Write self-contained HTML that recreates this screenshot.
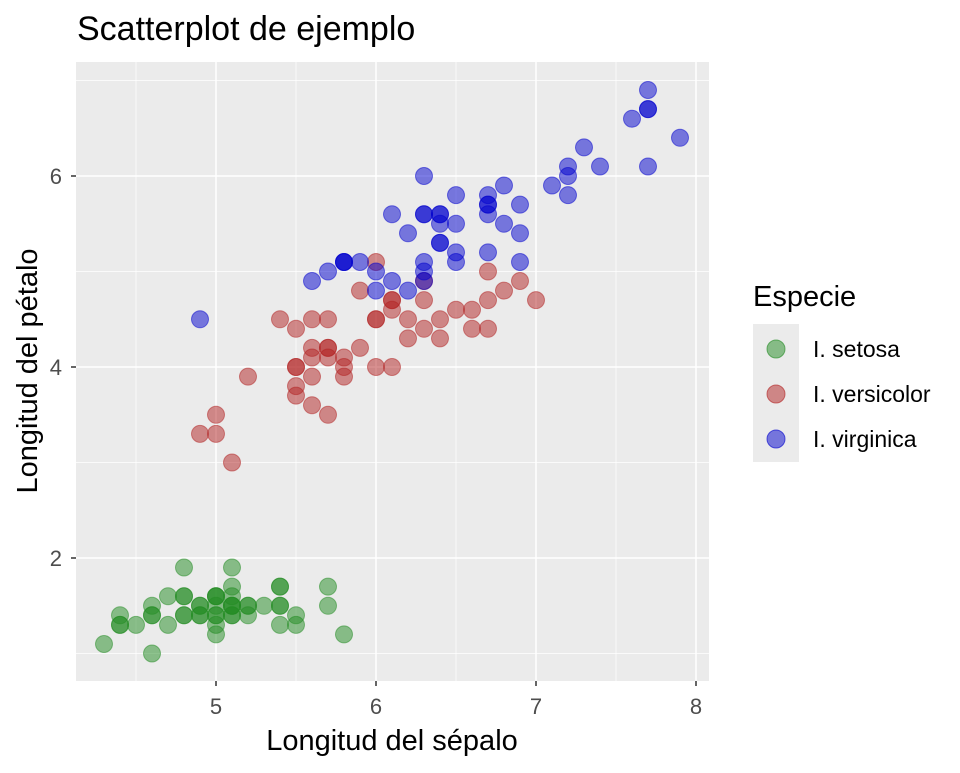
<!DOCTYPE html>
<html><head><meta charset="utf-8"><style>
body{margin:0;background:#fff;}
svg text{font-family:"Liberation Sans",Arial,sans-serif;}
</style></head><body>
<svg id="s" width="960" height="768" xmlns="http://www.w3.org/2000/svg">
<rect width="960" height="768" fill="#fff"/>
<rect x="76" y="62" width="633" height="619" fill="#ebebeb"/>
<g stroke="#fff" stroke-width="0.7">
<line x1="136" x2="136" y1="62" y2="681"/><line x1="296" x2="296" y1="62" y2="681"/>
<line x1="456" x2="456" y1="62" y2="681"/><line x1="616" x2="616" y1="62" y2="681"/>
<line x1="76" x2="709" y1="653.5" y2="653.5"/><line x1="76" x2="709" y1="462.5" y2="462.5"/>
<line x1="76" x2="709" y1="271.5" y2="271.5"/><line x1="76" x2="709" y1="80.5" y2="80.5"/>
</g>
<g stroke="#fff" stroke-width="1.5">
<line x1="216" x2="216" y1="62" y2="681"/><line x1="376" x2="376" y1="62" y2="681"/>
<line x1="536" x2="536" y1="62" y2="681"/><line x1="696" x2="696" y1="62" y2="681"/>
<line x1="76" x2="709" y1="558" y2="558"/><line x1="76" x2="709" y1="367" y2="367"/>
<line x1="76" x2="709" y1="176" y2="176"/>
</g>
<g id="pts"></g>
<g stroke="#333" stroke-width="1.5">
<line x1="216" x2="216" y1="681" y2="686"/><line x1="376" x2="376" y1="681" y2="686"/>
<line x1="536" x2="536" y1="681" y2="686"/><line x1="696" x2="696" y1="681" y2="686"/>
<line x1="71" x2="76" y1="558" y2="558"/><line x1="71" x2="76" y1="367" y2="367"/>
<line x1="71" x2="76" y1="176" y2="176"/>
</g>
<g fill="#4d4d4d" font-size="22">
<text x="216" y="714" text-anchor="middle">5</text><text x="376" y="714" text-anchor="middle">6</text>
<text x="536" y="714" text-anchor="middle">7</text><text x="696" y="714" text-anchor="middle">8</text>
<text x="62" y="566" text-anchor="end">2</text><text x="62" y="375" text-anchor="end">4</text>
<text x="62" y="184" text-anchor="end">6</text>
</g>
<text x="392" y="750" font-size="29" text-anchor="middle" fill="#000">Longitud del sépalo</text>
<text transform="translate(37,371) rotate(-90)" font-size="29" text-anchor="middle" fill="#000">Longitud del pétalo</text>
<text x="77" y="40" font-size="34" fill="#000">Scatterplot de ejemplo</text>
<text x="753" y="306" font-size="29" fill="#000">Especie</text>
<rect x="753" y="324" width="46" height="138" fill="#ebebeb"/>
<circle cx="776" cy="349" r="9" fill="#228B22" fill-opacity="0.5" stroke="#228B22" stroke-opacity="0.6"/>
<circle cx="776" cy="394" r="9" fill="#B22222" fill-opacity="0.5" stroke="#B22222" stroke-opacity="0.6"/>
<circle cx="776" cy="439" r="9" fill="#0000CD" fill-opacity="0.5" stroke="#0000CD" stroke-opacity="0.6"/>
<g font-size="23" fill="#000">
<text x="813" y="357">I. setosa</text><text x="813" y="402">I. versicolor</text><text x="813" y="447">I. virginica</text>
</g>
</svg>
<script>
var se="5.1 1.4,4.9 1.4,4.7 1.3,4.6 1.5,5.0 1.4,5.4 1.7,4.6 1.4,5.0 1.5,4.4 1.4,4.9 1.5,5.4 1.5,4.8 1.6,4.8 1.4,4.3 1.1,5.8 1.2,5.7 1.5,5.4 1.3,5.1 1.4,5.7 1.7,5.1 1.5,5.4 1.7,5.1 1.5,4.6 1.0,5.1 1.7,4.8 1.9,5.0 1.6,5.0 1.6,5.2 1.5,5.2 1.4,4.7 1.6,4.8 1.6,5.4 1.5,5.2 1.5,5.5 1.4,4.9 1.5,5.0 1.2,5.5 1.3,4.9 1.4,4.4 1.3,5.1 1.5,5.0 1.3,4.5 1.3,4.4 1.3,5.0 1.6,5.1 1.9,4.8 1.4,5.1 1.6,4.6 1.4,5.3 1.5,5.0 1.4";
var ve="7.0 4.7,6.4 4.5,6.9 4.9,5.5 4.0,6.5 4.6,5.7 4.5,6.3 4.7,4.9 3.3,6.6 4.6,5.2 3.9,5.0 3.5,5.9 4.2,6.0 4.0,6.1 4.7,5.6 3.6,6.7 4.4,5.6 4.5,5.8 4.1,6.2 4.5,5.6 3.9,5.9 4.8,6.1 4.0,6.3 4.9,6.1 4.7,6.4 4.3,6.6 4.4,6.8 4.8,6.7 5.0,6.0 4.5,5.7 3.5,5.5 3.8,5.5 3.7,5.8 3.9,6.0 5.1,5.4 4.5,6.0 4.5,6.7 4.7,6.3 4.4,5.6 4.1,5.5 4.0,5.5 4.4,6.1 4.6,5.8 4.0,5.0 3.3,5.6 4.2,5.7 4.2,5.7 4.2,6.2 4.3,5.1 3.0,5.7 4.1";
var vi="6.3 6.0,5.8 5.1,7.1 5.9,6.3 5.6,6.5 5.8,7.6 6.6,4.9 4.5,7.3 6.3,6.7 5.8,7.2 6.1,6.5 5.1,6.4 5.3,6.8 5.5,5.7 5.0,5.8 5.1,6.4 5.3,6.5 5.5,7.7 6.7,7.7 6.9,6.0 5.0,6.9 5.7,5.6 4.9,7.7 6.7,6.3 4.9,6.7 5.7,7.2 6.0,6.2 4.8,6.1 4.9,6.4 5.6,7.2 5.8,7.4 6.1,7.9 6.4,6.4 5.6,6.3 5.1,6.1 5.6,7.7 6.1,6.3 5.6,6.4 5.5,6.0 4.8,6.9 5.4,6.7 5.6,6.9 5.1,5.8 5.1,6.8 5.9,6.7 5.7,6.7 5.2,6.3 5.0,6.5 5.2,6.2 5.4,5.9 5.1";
var g=document.getElementById("pts"),h="";
[[se,"#228B22"],[ve,"#B22222"],[vi,"#0000CD"]].forEach(function(d){
d[0].split(",").forEach(function(p){var a=p.split(" ");var x=216+(a[0]-5)*160,y=558-(a[1]-2)*95.5;
h+='<circle cx="'+x.toFixed(1)+'" cy="'+y.toFixed(1)+'" r="8.5" fill="'+d[1]+'" fill-opacity="0.5" stroke="'+d[1]+'" stroke-opacity="0.5" stroke-width="1"/>';});});
g.innerHTML=h;
</script>
</body></html>
